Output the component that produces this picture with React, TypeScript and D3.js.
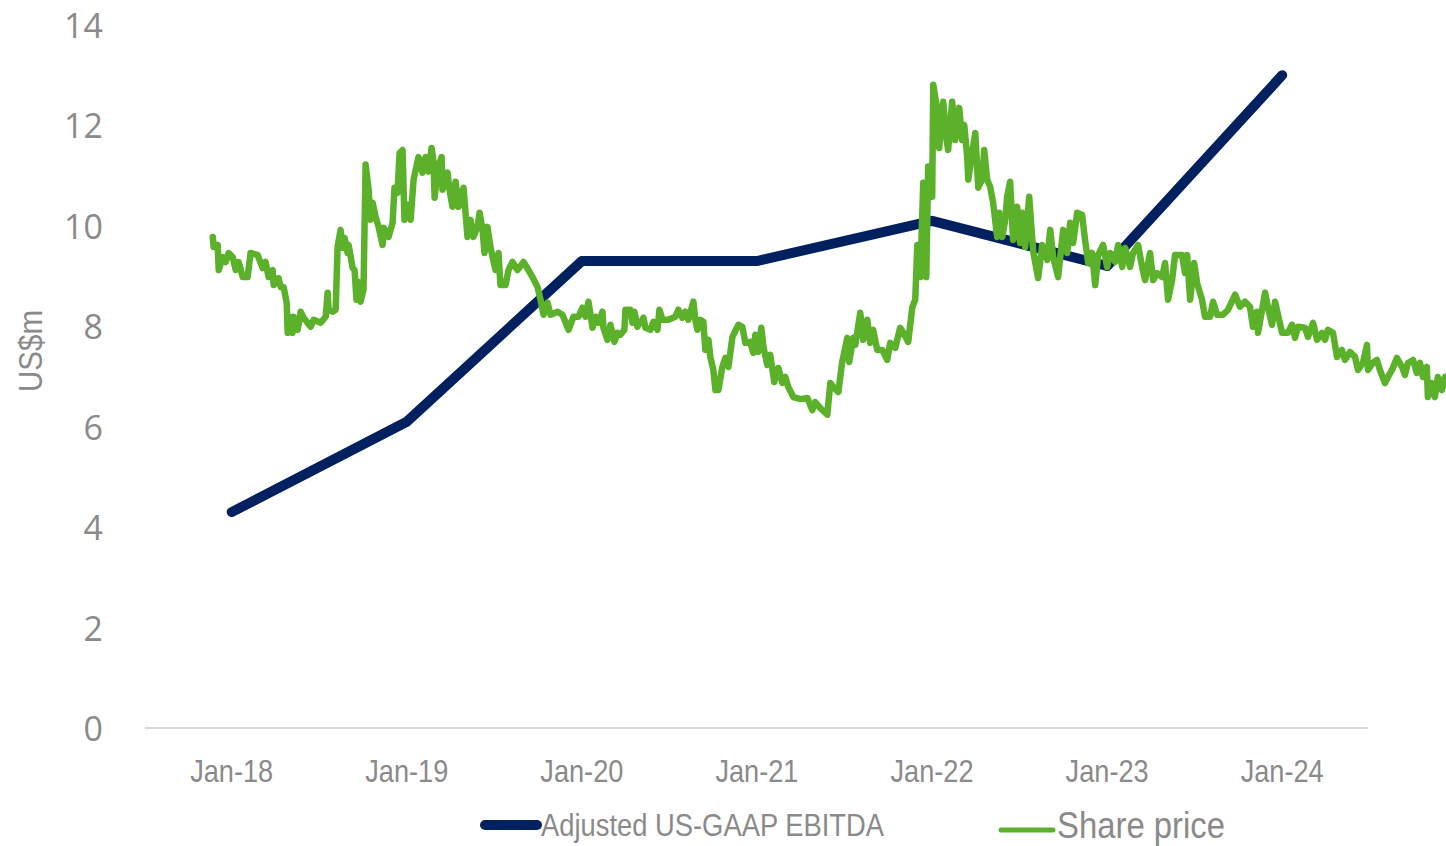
import React from "react";
import * as d3 from "d3";

const yearTicks = [2018, 2019, 2020, 2021, 2022, 2023, 2024];
const yearTickLabels = ["Jan-18", "Jan-19", "Jan-20", "Jan-21", "Jan-22", "Jan-23", "Jan-24"];
const valueTicks = [0, 2, 4, 6, 8, 10, 12, 14];

const ebitdaDates = [2018, 2019, 2020, 2021, 2022, 2023, 2024];
const ebitdaValues = [4.3, 6.1, 9.3, 9.3, 10.1, 9.2, 13.0];

const sharePrice: [number, number][] = [
  [2017.892, 9.78], [2017.897, 9.58], [2017.92, 9.62], [2017.926, 9.12], [2017.949, 9.38],
  [2017.966, 9.28], [2017.983, 9.46], [2018.006, 9.38], [2018.023, 9.12], [2018.04, 9.28],
  [2018.063, 8.98], [2018.091, 8.98], [2018.108, 9.46], [2018.148, 9.42], [2018.177, 9.16],
  [2018.194, 9.28], [2018.211, 8.98], [2018.234, 9.12], [2018.24, 8.82], [2018.268, 8.96],
  [2018.28, 8.78], [2018.297, 8.78], [2018.314, 8.47], [2018.32, 7.87], [2018.331, 8.19],
  [2018.348, 7.87], [2018.354, 8.19], [2018.377, 7.93], [2018.394, 8.29], [2018.411, 8.17],
  [2018.451, 7.99], [2018.468, 8.13], [2018.508, 8.07], [2018.537, 8.19], [2018.548, 8.67],
  [2018.554, 8.33], [2018.576, 8.29], [2018.594, 8.33], [2018.605, 9.58], [2018.622, 9.92],
  [2018.634, 9.56], [2018.645, 9.76], [2018.662, 9.46], [2018.668, 9.62], [2018.691, 9.16],
  [2018.702, 9.12], [2018.713, 8.53], [2018.725, 8.88], [2018.736, 8.49], [2018.753, 8.73],
  [2018.765, 11.22], [2018.782, 10.72], [2018.793, 10.12], [2018.805, 10.46], [2018.822, 10.18],
  [2018.839, 9.98], [2018.862, 9.62], [2018.868, 9.96], [2018.896, 9.78], [2018.919, 10.06],
  [2018.93, 10.76], [2018.947, 10.66], [2018.959, 11.45], [2018.976, 11.51], [2018.987, 10.12],
  [2019.005, 10.42], [2019.022, 10.12], [2019.039, 10.92], [2019.067, 11.37], [2019.09, 11.06],
  [2019.107, 11.37], [2019.124, 11.08], [2019.142, 11.55], [2019.153, 11.27], [2019.159, 10.56],
  [2019.176, 11.12], [2019.199, 11.37], [2019.204, 10.72], [2019.233, 11.06], [2019.244, 10.72],
  [2019.261, 10.38], [2019.279, 10.88], [2019.296, 10.38], [2019.324, 10.76], [2019.347, 9.78],
  [2019.364, 10.12], [2019.381, 9.78], [2019.404, 9.98], [2019.416, 10.26], [2019.433, 9.92],
  [2019.444, 9.46], [2019.461, 9.98], [2019.478, 9.58], [2019.49, 9.38], [2019.507, 9.12],
  [2019.524, 9.46], [2019.535, 8.82], [2019.564, 8.82], [2019.581, 9.12], [2019.604, 9.28],
  [2019.632, 9.12], [2019.667, 9.28], [2019.695, 9.12], [2019.718, 8.98], [2019.747, 8.78],
  [2019.764, 8.53], [2019.781, 8.23], [2019.804, 8.47], [2019.821, 8.23], [2019.861, 8.29],
  [2019.889, 8.23], [2019.906, 8.09], [2019.924, 7.93], [2019.952, 8.19], [2019.981, 8.19],
  [2020.003, 8.37], [2020.021, 8.19], [2020.038, 8.49], [2020.061, 7.97], [2020.078, 8.19],
  [2020.095, 8.07], [2020.118, 8.29], [2020.123, 7.97], [2020.146, 7.73], [2020.163, 8.03],
  [2020.186, 7.69], [2020.203, 7.87], [2020.22, 7.83], [2020.243, 7.93], [2020.249, 8.33],
  [2020.277, 8.33], [2020.289, 8.07], [2020.3, 8.29], [2020.317, 7.99], [2020.352, 8.17],
  [2020.363, 7.97], [2020.392, 7.93], [2020.409, 8.09], [2020.432, 7.93], [2020.443, 8.33],
  [2020.46, 8.13], [2020.494, 8.13], [2020.534, 8.19], [2020.551, 8.33], [2020.574, 8.17],
  [2020.591, 8.29], [2020.608, 8.13], [2020.637, 8.49], [2020.648, 8.13], [2020.66, 7.93],
  [2020.677, 8.13], [2020.694, 8.09], [2020.705, 7.53], [2020.723, 7.73], [2020.734, 7.39],
  [2020.751, 7.13], [2020.763, 6.73], [2020.78, 6.73], [2020.802, 7.19], [2020.82, 7.37],
  [2020.837, 7.19], [2020.86, 7.79], [2020.894, 8.03], [2020.917, 7.99], [2020.934, 7.67],
  [2020.962, 7.69], [2020.979, 7.47], [2020.991, 7.83], [2021.008, 7.49], [2021.025, 7.97],
  [2021.037, 7.59], [2021.059, 7.23], [2021.076, 7.43], [2021.099, 6.89], [2021.122, 7.17],
  [2021.145, 6.87], [2021.162, 6.99], [2021.179, 6.79], [2021.208, 6.59], [2021.248, 6.55],
  [2021.288, 6.57], [2021.316, 6.33], [2021.333, 6.49], [2021.362, 6.37], [2021.402, 6.24],
  [2021.419, 6.87], [2021.436, 6.79], [2021.465, 6.69], [2021.487, 7.29], [2021.516, 7.77],
  [2021.527, 7.29], [2021.55, 7.77], [2021.562, 7.63], [2021.59, 8.27], [2021.607, 7.73],
  [2021.63, 8.13], [2021.647, 7.67], [2021.664, 7.93], [2021.687, 7.53], [2021.716, 7.53],
  [2021.744, 7.33], [2021.761, 7.67], [2021.79, 7.57], [2021.818, 7.97], [2021.836, 7.87],
  [2021.864, 7.69], [2021.887, 8.37], [2021.904, 8.53], [2021.916, 9.62], [2021.933, 8.98],
  [2021.95, 10.86], [2021.967, 8.98], [2021.978, 11.18], [2022.001, 10.58], [2022.007, 12.81],
  [2022.03, 12.31], [2022.041, 11.55], [2022.064, 12.47], [2022.081, 11.77], [2022.092, 11.51],
  [2022.115, 12.47], [2022.132, 11.71], [2022.155, 12.35], [2022.172, 11.71], [2022.184, 12.01],
  [2022.201, 11.37], [2022.207, 10.92], [2022.229, 11.45], [2022.247, 11.85], [2022.264, 10.76],
  [2022.286, 10.92], [2022.298, 11.51], [2022.315, 10.92], [2022.332, 10.78], [2022.349, 10.46],
  [2022.372, 9.78], [2022.384, 10.26], [2022.401, 9.78], [2022.418, 10.12], [2022.429, 10.58],
  [2022.446, 10.88], [2022.463, 9.72], [2022.486, 10.38], [2022.503, 9.66], [2022.515, 10.26],
  [2022.532, 9.58], [2022.555, 10.58], [2022.578, 9.48], [2022.606, 8.96], [2022.629, 9.62],
  [2022.658, 9.32], [2022.675, 9.92], [2022.692, 9.38], [2022.72, 8.98], [2022.749, 9.92],
  [2022.772, 9.46], [2022.789, 10.06], [2022.806, 9.66], [2022.829, 10.26], [2022.857, 10.22],
  [2022.874, 9.72], [2022.892, 9.26], [2022.914, 9.46], [2022.932, 8.82], [2022.949, 9.42],
  [2022.977, 9.62], [2023.0, 9.18], [2023.017, 9.46], [2023.046, 9.28], [2023.063, 9.62],
  [2023.086, 9.18], [2023.103, 9.56], [2023.131, 9.18], [2023.148, 9.46], [2023.177, 9.62],
  [2023.2, 9.18], [2023.217, 8.92], [2023.245, 9.46], [2023.263, 8.92], [2023.285, 9.06],
  [2023.314, 8.98], [2023.331, 9.26], [2023.348, 8.53], [2023.371, 8.92], [2023.388, 9.42],
  [2023.428, 9.42], [2023.445, 9.06], [2023.457, 9.42], [2023.474, 8.53], [2023.497, 9.26],
  [2023.514, 8.86], [2023.542, 8.53], [2023.559, 8.19], [2023.588, 8.19], [2023.605, 8.49],
  [2023.628, 8.23], [2023.662, 8.23], [2023.691, 8.33], [2023.731, 8.63], [2023.759, 8.39],
  [2023.788, 8.49], [2023.816, 8.39], [2023.833, 7.99], [2023.856, 8.29], [2023.862, 7.87],
  [2023.885, 8.33], [2023.902, 8.67], [2023.919, 8.37], [2023.942, 8.03], [2023.959, 8.49],
  [2023.976, 8.23], [2023.999, 7.87], [2024.033, 7.87], [2024.056, 8.03], [2024.073, 7.77],
  [2024.09, 7.99], [2024.13, 7.97], [2024.147, 7.79], [2024.176, 8.07], [2024.199, 7.73],
  [2024.227, 7.87], [2024.244, 7.73], [2024.261, 7.93], [2024.29, 7.87], [2024.313, 7.39],
  [2024.341, 7.53], [2024.358, 7.33], [2024.387, 7.49], [2024.416, 7.39], [2024.433, 7.13],
  [2024.461, 7.27], [2024.484, 7.63], [2024.49, 7.13], [2024.518, 7.27], [2024.541, 7.33],
  [2024.558, 7.13], [2024.587, 6.87], [2024.604, 6.99], [2024.627, 7.13], [2024.655, 7.37],
  [2024.684, 7.19], [2024.701, 7.03], [2024.718, 7.27], [2024.747, 7.33], [2024.769, 7.07],
  [2024.787, 7.27], [2024.804, 6.99], [2024.826, 7.19], [2024.832, 6.59], [2024.855, 6.87],
  [2024.872, 6.59], [2024.889, 6.99], [2024.912, 6.73], [2024.929, 6.99], [2024.958, 7.03],
];

const legendLabels = ["Adjusted US-GAAP EBITDA", "Share price"];
const yAxisTitle = "US$m";

const NAVY = "#002060";
const GREEN = "#5bb12a";
const TEXT = "#8a8a8a";
const NARROW = "'Liberation Sans Narrow', 'Arial Narrow', 'Liberation Sans', sans-serif";

export default function App() {
  const W = 1446;
  const H = 846;
  const x = d3.scaleLinear().domain([2017.505, 2024.49]).range([145, 1368]);
  const y = d3.scaleLinear().domain([0, 14]).range([728, 25]);

  const ebitdaLine = d3
    .line<number>()
    .x((_, i) => x(ebitdaDates[i]))
    .y((d) => y(d))(ebitdaValues) as string;

  const shareLine = d3
    .line<[number, number]>()
    .x((d) => x(d[0]))
    .y((d) => y(d[1]))(sharePrice) as string;

  return (
    <svg
      width={W}
      height={H}
      style={{ position: "absolute", left: 0, top: 0, display: "block", background: "#fff" }}
    >
      <line x1={x.range()[0]} x2={x.range()[1]} y1={y(0)} y2={y(0)} stroke="#d9d9d9" strokeWidth={2} />

      {valueTicks.map((v) => (
        <text
          key={v}
          x={103}
          y={y(v)}
          textAnchor="end"
          dominantBaseline="central"
          fontFamily="'Open Sans', sans-serif"
          fontSize={34}
          fill={TEXT}
        >
          {v}
        </text>
      ))}

      {yearTicks.map((t, i) => (
        <text
          key={t}
          x={x(t)}
          y={782}
          textAnchor="middle"
          fontFamily={NARROW}
          fontSize={32}
          fill={TEXT}
          textLength={83}
          lengthAdjust="spacingAndGlyphs"
        >
          {yearTickLabels[i]}
        </text>
      ))}

      <text
        transform={`translate(42, 351) rotate(-90)`}
        textAnchor="middle"
        fontFamily={NARROW}
        fontSize={34}
        fill={TEXT}
        textLength={82}
        lengthAdjust="spacingAndGlyphs"
      >
        {yAxisTitle}
      </text>

      <path d={ebitdaLine} fill="none" stroke={NAVY} strokeWidth={10} strokeLinecap="round" strokeLinejoin="round" />
      <path d={shareLine} fill="none" stroke={GREEN} strokeWidth={6.5} strokeLinejoin="round" strokeLinecap="round" />

      <line x1={485} x2={537} y1={825} y2={825} stroke={NAVY} strokeWidth={10} strokeLinecap="round" />
      <text
        x={541}
        y={836}
        fontFamily={NARROW}
        fontSize={32}
        fill={TEXT}
        textLength={343}
        lengthAdjust="spacingAndGlyphs"
      >
        {legendLabels[0]}
      </text>
      <line x1={1001} x2={1053} y1={830} y2={830} stroke={GREEN} strokeWidth={5} strokeLinecap="round" />
      <text
        x={1057}
        y={838}
        fontFamily={NARROW}
        fontSize={36}
        fill={TEXT}
        textLength={168}
        lengthAdjust="spacingAndGlyphs"
      >
        {legendLabels[1]}
      </text>
    </svg>
  );
}
